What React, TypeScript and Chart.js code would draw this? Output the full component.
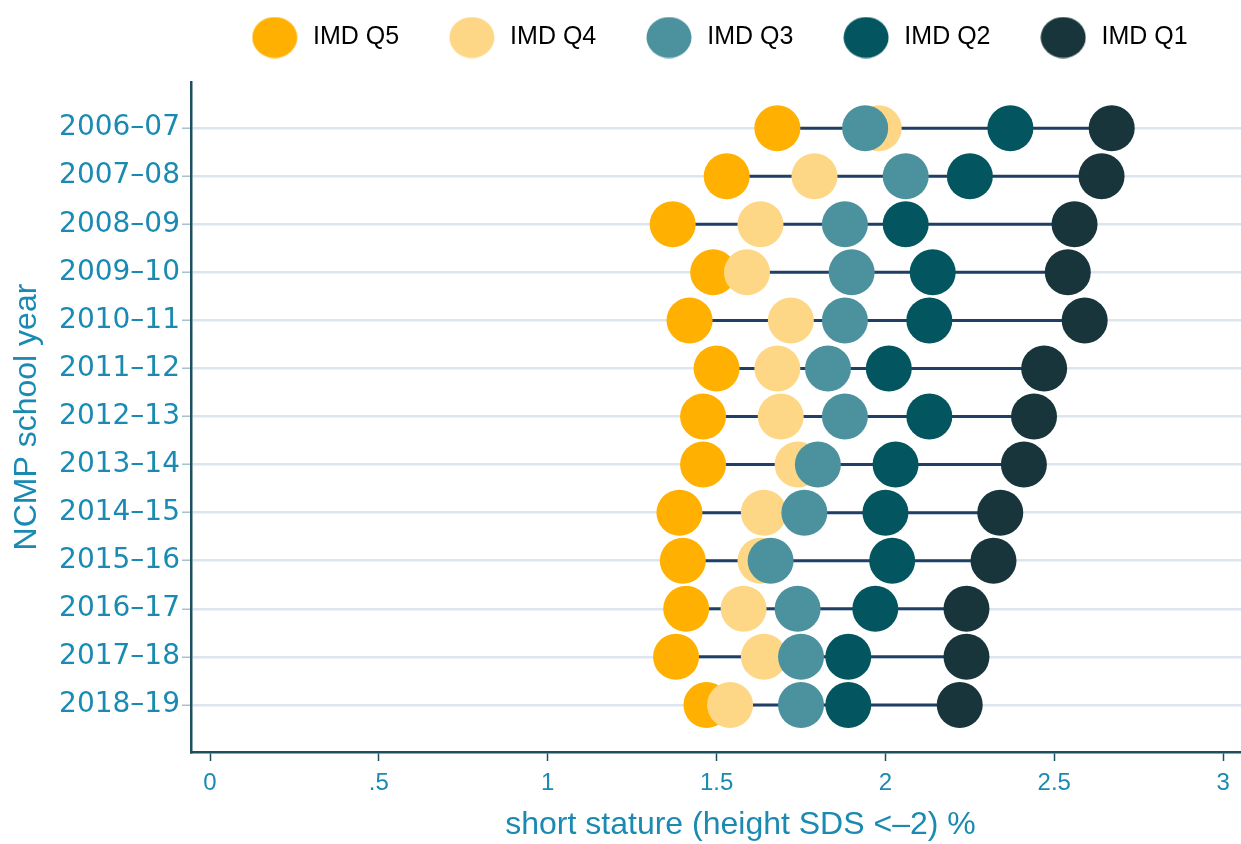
import React, { useEffect, useRef } from "react";
import { Chart, registerables } from "chart.js";

Chart.register(...registerables);

// ---- data ----
const years = [
  "2006–07", "2007–08", "2008–09", "2009–10", "2010–11", "2011–12", "2012–13",
  "2013–14", "2014–15", "2015–16", "2016–17", "2017–18", "2018–19",
];
const seriesNames = ["IMD Q5", "IMD Q4", "IMD Q3", "IMD Q2", "IMD Q1"];
const q5 = [1.68, 1.53, 1.37, 1.49, 1.42, 1.50, 1.46, 1.46, 1.39, 1.40, 1.41, 1.38, 1.47];
const q4 = [1.98, 1.79, 1.63, 1.59, 1.72, 1.68, 1.69, 1.74, 1.64, 1.63, 1.58, 1.64, 1.54];
const q3 = [1.94, 2.06, 1.88, 1.90, 1.88, 1.83, 1.88, 1.80, 1.76, 1.66, 1.74, 1.75, 1.75];
const q2 = [2.37, 2.25, 2.06, 2.14, 2.13, 2.01, 2.13, 2.03, 2.00, 2.02, 1.97, 1.89, 1.89];
const q1 = [2.67, 2.64, 2.56, 2.54, 2.59, 2.47, 2.44, 2.41, 2.34, 2.32, 2.24, 2.24, 2.22];
const xTickValues = [0, 0.5, 1, 1.5, 2, 2.5, 3];
const xTickLabels = ["0", ".5", "1", "1.5", "2", "2.5", "3"];

const seriesValues = [q5, q4, q3, q2, q1];
const seriesColors = ["#FFB000", "#FDD785", "#4B929E", "#03565F", "#17353A"];
const textColor = "#1a8ab3";
const axisColor = "#1d4f5f";

function makeLegendImage(color: string) {
  const c = document.createElement("canvas");
  c.width = 46;
  c.height = 42;
  const ctx = c.getContext("2d")!;
  ctx.fillStyle = color;
  ctx.beginPath();
  ctx.ellipse(23, 21, 22.5, 20.5, 0, 0, Math.PI * 2);
  ctx.fill();
  return c;
}

export default function App() {
  const ref = useRef<HTMLCanvasElement | null>(null);

  useEffect(() => {
    if (!ref.current) return;
    const legendImgs = seriesColors.map(makeLegendImage);

    const pointSets = seriesValues.map((vals, si) => ({
      label: seriesNames[si],
      data: vals.map((v, i) => ({ x: v, y: i })),
      backgroundColor: seriesColors[si],
      borderWidth: 0,
      pointRadius: 23,
      pointHoverRadius: 23,
      showLine: false,
      order: 5 - si,
    }));

    const connectorSets = years.map((_, i) => {
      const vals = seriesValues.map((s) => s[i]);
      return {
        label: "range " + years[i],
        data: [
          { x: Math.min(...vals), y: i },
          { x: Math.max(...vals), y: i },
        ],
        showLine: true,
        borderColor: "#1F3F66",
        borderWidth: 3,
        pointRadius: 0,
        fill: false,
        order: 10,
      };
    });

    const legendShift = {
      id: "legendShift",
      afterLayout(chart: any) {
        const l = chart.legend;
        if (l) {
          l.left += 11;
          l.right += 11;
          l.top -= 22;
          l.bottom -= 22;
        }
      },
    };

    const chart = new Chart(ref.current, {
      type: "scatter",
      data: { datasets: [...pointSets, ...connectorSets] as any },
      plugins: [legendShift],
      options: {
        animation: false,
        responsive: false,
        devicePixelRatio: 1,
        events: [],
        layout: { padding: 0, autoPadding: false },
        font: { family: "'Liberation Sans', Arial, sans-serif" },
        plugins: {
          tooltip: { enabled: false },
          legend: {
            display: true,
            position: "top",
            align: "start",
            fullSize: false,
            labels: {
              usePointStyle: true,
              pointStyleWidth: 51.5,
              padding: 47,
              color: "#111111",
              font: { size: 25, family: "'Liberation Sans', Arial, sans-serif" },
              generateLabels: () =>
                seriesNames.map((name, i) => ({
                  text: name,
                  fillStyle: seriesColors[i],
                  strokeStyle: seriesColors[i],
                  lineWidth: 0,
                  pointStyle: legendImgs[i] as any,
                  hidden: false,
                  datasetIndex: i,
                })),
            },
          },
        },
        scales: {
          x: {
            type: "linear",
            min: -0.0563,
            max: 3.198,
            afterBuildTicks: (scale: any) => {
              scale.ticks = xTickValues.map((v) => ({ value: v }));
            },
            afterFit: (scale: any) => {
              scale.height = 92;
              scale.paddingLeft = 0;
              scale.paddingRight = 0;
            },
            ticks: {
              color: textColor,
              padding: 8,
              maxRotation: 0,
              autoSkip: false,
              font: { size: 24, family: "'Liberation Sans', Arial, sans-serif" },
              callback: (_v: any, idx: number) => xTickLabels[idx],
            },
            grid: {
              drawOnChartArea: false,
              drawTicks: true,
              tickLength: 9,
              tickColor: axisColor,
              tickWidth: 1.5,
            },
            border: { display: true, color: axisColor, width: 2.5 },
            title: {
              display: true,
              text: "short stature (height SDS <–2) %",
              color: textColor,
              font: { size: 32, family: "'Liberation Sans', Arial, sans-serif" },
              padding: { top: 0, bottom: 0 },
            },
          },
          y: {
            type: "linear",
            reverse: true,
            min: -0.96,
            max: 12.98,
            afterBuildTicks: (scale: any) => {
              scale.ticks = years.map((_, i) => ({ value: i }));
            },
            afterFit: (scale: any) => {
              scale.width = 191;
              scale.paddingTop = 0;
              scale.paddingBottom = 0;
            },
            ticks: {
              color: textColor,
              padding: 2,
              autoSkip: false,
              font: { size: 28, family: "'DejaVu Sans', sans-serif" },
              callback: (v: any) => years[Math.round(Number(v))],
            },
            grid: {
              drawOnChartArea: true,
              color: "#dde6ee",
              lineWidth: 2.5,
              drawTicks: true,
              tickLength: 9,
              tickColor: "#a8bfcc",
              tickWidth: 1.5,
            },
            border: { display: true, color: axisColor, width: 2.5 },
            title: {
              display: true,
              text: "NCMP school year",
              color: textColor,
              font: { size: 32, family: "'Liberation Sans', Arial, sans-serif" },
              padding: { top: 8, bottom: 0 },
            },
          },
        },
      } as any,
    });

    return () => chart.destroy();
  }, []);

  return (
    <div
      style={{
        position: "fixed",
        left: 0,
        top: 0,
        width: 1241,
        height: 844,
        overflow: "hidden",
        background: "#ffffff",
      }}
    >
      <canvas
        ref={ref}
        width={1290}
        height={844}
        style={{ display: "block", width: 1290, height: 844 }}
      />
    </div>
  );
}
